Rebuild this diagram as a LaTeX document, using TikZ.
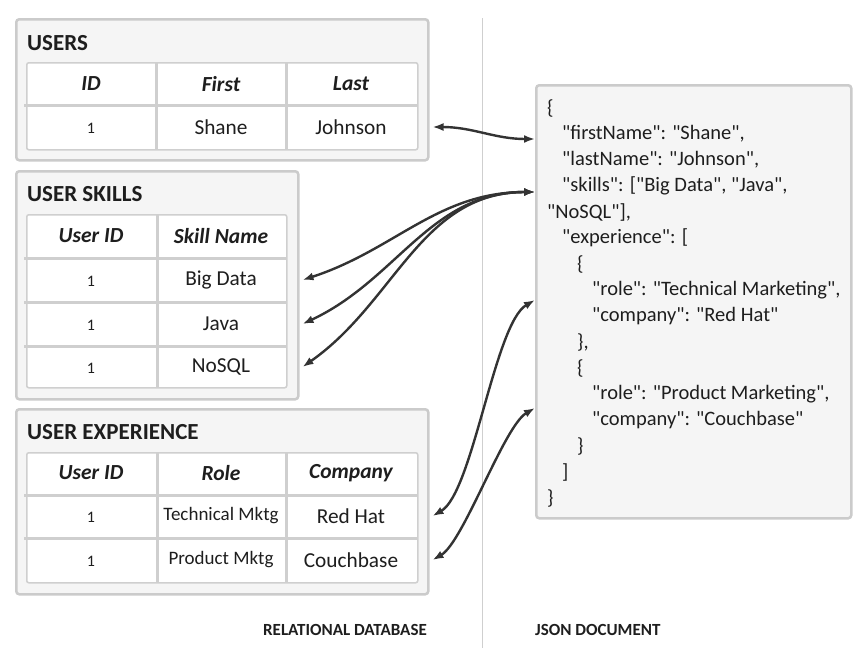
\documentclass[tikz,border=0pt]{standalone}
\usepackage{fontspec}
\setmainfont{Carlito}
\usepackage{xcolor}
\usetikzlibrary{arrows.meta}
\definecolor{boxfill}{HTML}{F5F5F5}
\definecolor{boxline}{HTML}{CBCBCB}
\definecolor{tabline}{HTML}{CFCFCF}
\definecolor{ink}{HTML}{1E1E1E}
\definecolor{arrowcol}{HTML}{333333}
\newcommand{\dq}{\textquotedbl}

\begin{document}
\begin{tikzpicture}[x=1pt, y=-1pt]
\tikzset{outerbox/.style={draw=boxline, line width=2.5pt, fill=boxfill, rounded corners=3pt, anchor=north west, inner sep=0pt}}
\tikzset{tabbox/.style={draw=tabline, line width=1.5pt, fill=white, rounded corners=2pt, anchor=north west, inner sep=0pt}}
\tikzset{tabsep/.style={draw=tabline, line width=3pt}}
\tikzset{title/.style={anchor=west, inner sep=0pt, text=ink, font=\fontsize{23}{27}\selectfont\bfseries}}
\tikzset{head/.style={inner sep=0pt, text=ink, font=\fontsize{21.5}{25}\selectfont\bfseries\itshape}}
\tikzset{cell/.style={inner sep=0pt, text=ink, font=\fontsize{21.3}{25}\selectfont}}
\tikzset{num/.style={inner sep=0pt, text=ink, font=\fontsize{16}{19}\selectfont}}
\tikzset{small/.style={inner sep=0pt, text=ink, font=\fontsize{19}{22}\selectfont}}
\tikzset{jline/.style={anchor=west, inner sep=0pt, text=ink, font=\fontsize{20.5}{24}\selectfont}}
\tikzset{caption/.style={inner sep=0pt, text=ink, font=\fontsize{17}{20}\selectfont\bfseries}}
\tikzset{link/.style={draw=arrowcol, line width=2.4pt, {Latex[length=11pt,width=8pt]}-{Latex[length=11pt,width=8pt]}}}
    \useasboundingbox (0,0) rectangle (867,648);

    % users
    \node[outerbox, minimum width=412pt, minimum height=141pt] (usersBox) at (15,18) {};
    \node[title] (usersTitle) at (27,43) {USERS};
    \node[tabbox, minimum width=391pt, minimum height=87pt] (usersTab) at (26,62) {};
    \draw[tabsep] (24,105) -- (418,105);
    \draw[tabsep] (156,62) -- (156,149);
    \draw[tabsep] (286,62) -- (286,149);
    \node[head] (uId) at (91,84) {ID};
    \node[head] (uFirst) at (221,84) {First};
    \node[head] (uLast) at (351,84) {Last};
    \node[num] (uOne) at (91,128) {1};
    \node[cell] (shane) at (221,127) {Shane};
    \node[cell] (johnson) at (351,127) {Johnson};
% % % % % % % % % % % % % % % % % % %
    % user skills
    \node[outerbox, minimum width=282pt, minimum height=228pt] (skillsBox) at (15,170) {};
    \node[title] (skillsTitle) at (27,194) {USER SKILLS};
    \node[tabbox, minimum width=260pt, minimum height=173pt] (skillsTab) at (26,214) {};
    \draw[tabsep] (24,258) -- (287,258);
    \draw[tabsep] (24,302) -- (287,302);
    \draw[tabsep] (24,346) -- (287,346);
    \draw[tabsep] (157,214) -- (157,387);
    \node[head] (sId) at (91,236) {User ID};
    \node[head] (sName) at (221,236) {Skill Name};
    \node[num] (sOne) at (91,281) {1};
    \node[cell] (bigdata) at (221,280) {Big Data};
    \node[num] (sTwo) at (91,325) {1};
    \node[cell] (java) at (221,324) {Java};
    \node[num] (sThree) at (91,368) {1};
    \node[cell] (nosql) at (221,367) {NoSQL};
% % % % % % % % % % % % % % % % % % %
    % user experience
    \node[outerbox, minimum width=412pt, minimum height=185pt] (expBox) at (15,408) {};
    \node[title] (expTitle) at (27,432) {USER EXPERIENCE};
    \node[tabbox, minimum width=391pt, minimum height=130pt] (expTab) at (26,452) {};
    \draw[tabsep] (24,495) -- (418,495);
    \draw[tabsep] (24,538) -- (418,538);
    \draw[tabsep] (157,452) -- (157,582);
    \draw[tabsep] (286,452) -- (286,582);
    \node[head] (eId) at (91,473) {User ID};
    \node[head] (eRole) at (221,473) {Role};
    \node[head] (eComp) at (351,473) {Company};
    \node[num] (eOne) at (91,517) {1};
    \node[small] (techmktg) at (221,516) {Technical Mktg};
    \node[cell] (redhat) at (351,516) {Red Hat};
    \node[num] (eTwo) at (91,561) {1};
    \node[small] (prodmktg) at (221,560) {Product Mktg};
    \node[cell] (couchbase) at (351,560) {Couchbase};
% % % % % % % % % % % % % % % % % % %
    % divider and json document
    \coordinate (divTop) at (482,18);
    \coordinate (divBot) at (482,648);
    \draw[tabline, line width=1pt] (divTop) -- (divBot);

    \node[outerbox, minimum width=315pt, minimum height=433pt] (jBox) at (535,84) {};
    \foreach \lvl/\txt [count=\i] in {0/\{, 1/{\dq firstName\dq: \dq Shane\dq,}, 1/{\dq lastName\dq: \dq Johnson\dq,},
        1/{\dq skills\dq: [\dq Big Data\dq, \dq Java\dq,}, 0/{\dq NoSQL\dq],}, 1/{\dq experience\dq: [}, 2/\{,
        3/{\dq role\dq: \dq Technical Marketing\dq,}, 3/{\dq company\dq: \dq Red Hat\dq}, 2/{\},}, 2/\{,
        3/{\dq role\dq: \dq Product Marketing\dq,}, 3/{\dq company\dq: \dq Couchbase\dq}, 2/\}, 1/], 0/\}}
        \node[jline] (jl\i) at (547+15*\lvl, 82+26*\i) {\txt};

    \node[caption, anchor=east] (relCap) at (427,630) {RELATIONAL DATABASE};
    \node[caption, anchor=west] (jsonCap) at (535,630) {JSON DOCUMENT};
% % % % % % % % % % % % % % % % % % %
    % links
    \draw[link] ([xshift=3pt]usersBox.east |- johnson) to[out=0, in=180] ([yshift=-5pt]jBox.west |- jl2);
    \draw[link] ([yshift=-6pt]jBox.west |- jl4) to[out=180, in=18] ([xshift=3pt]skillsBox.east |- bigdata);
    \draw[link] ([yshift=-6pt]jBox.west |- jl4) to[out=180, in=25] ([xshift=3pt]skillsBox.east |- java);
    \draw[link] ([yshift=-6pt]jBox.west |- jl4) to[out=180, in=35] ([xshift=3pt]skillsBox.east |- nosql);
    \draw[link] ([yshift=-10pt]jBox.west |- jl8) to[out=210, in=30, looseness=0.5] ([xshift=3pt]expBox.east |- redhat);
    \draw[link] ([yshift=-14pt]jBox.west |- jl12) to[out=210, in=30, looseness=0.5] ([xshift=3pt]expBox.east |- couchbase);
\end{tikzpicture}
\end{document}
